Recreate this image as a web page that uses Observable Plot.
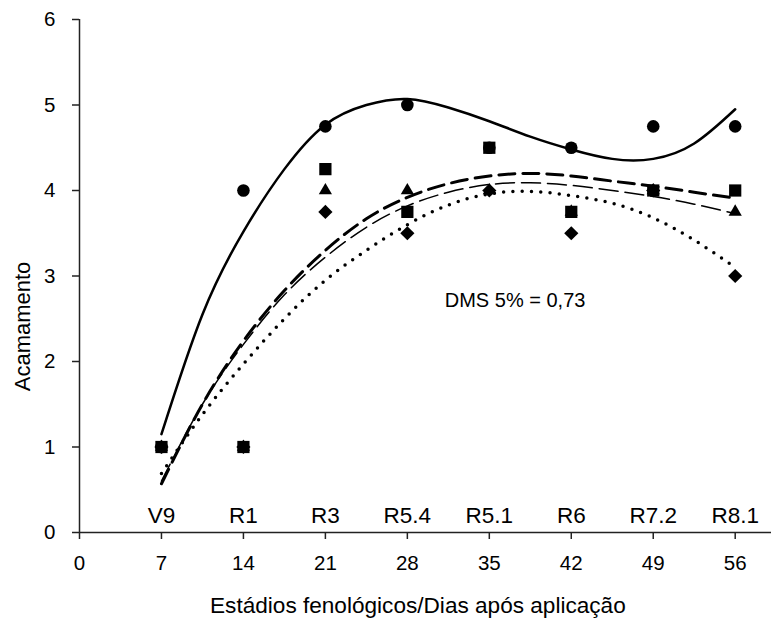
<!DOCTYPE html>
<html>
<head>
<meta charset="utf-8">
<script src="https://cdn.jsdelivr.net/npm/d3@7"></script>
<script src="https://cdn.jsdelivr.net/npm/@observablehq/plot@0.6"></script>
<style>
  html, body { margin: 0; padding: 0; background: #fff; }
  #chart { width: 771px; height: 619px; }
</style>
</head>
<body>
<div id="chart"></div>
<script>
// ---- data ----
const days = [7, 14, 21, 28, 35, 42, 49, 56];
const stages = ["V9", "R1", "R3", "R5.4", "R5.1", "R6", "R7.2", "R8.1"];
const xTicks = [0, 7, 14, 21, 28, 35, 42, 49, 56];
const yTicks = [0, 1, 2, 3, 4, 5, 6];

const circleVals   = [1, 4,    4.75, 5,    4.5, 4.5,  4.75, 4.75];
const triangleVals = [1, 1,    4,    4,    4,   3.75, 4,    3.75];
const squareVals   = [1, 1,    4.25, 3.75, 4.5, 3.75, 4,    4];
const diamondVals  = [1, 1,    3.75, 3.5,  4,   3.5,  4,    3];

// trend lines
const curveDays     = [7, 10.5, 14, 17.5, 21, 24.5, 28, 31.5, 35, 38.5, 42, 45.5, 49, 52.5, 56];
const circleCurve   = [1.15, 2.55, 3.52, 4.25, 4.77, 5.0, 5.07, 4.97, 4.81, 4.63, 4.48, 4.37, 4.37, 4.55, 4.95];
const squareCurve   = [0.57, 1.5, 2.24, 2.83, 3.3, 3.67, 3.92, 4.08, 4.17, 4.2, 4.17, 4.11, 4.05, 3.98, 3.91];
const triangleCurve = [0.6, 1.5, 2.2, 2.78, 3.22, 3.57, 3.82, 3.98, 4.07, 4.09, 4.06, 4.0, 3.93, 3.84, 3.73];
const diamondCurve  = [0.69, 1.38, 1.97, 2.5, 2.95, 3.3, 3.6, 3.83, 3.96, 3.99, 3.94, 3.85, 3.68, 3.42, 3.1];

const annotation = [{x: 37.2, y: 2.71, text: "DMS 5% = 0,73"}];
const xTitle = [{text: "Estádios fenológicos/Dias após aplicação", x: 28.9}];
const yTitle = [{text: "Acamamento", x: -4.87, y: 2.41}];

// ---- build tables ----
const pts = (vals) => days.map((d, i) => ({x: d, y: vals[i]}));
const crv = (vals) => curveDays.map((d, i) => ({x: d, y: vals[i]}));
const stageRows = days.map((d, i) => ({x: d, label: stages[i]}));

const font = "Liberation Sans, Arial, Helvetica, sans-serif";

const chart = Plot.plot({
  width: 771,
  height: 619,
  marginLeft: 79,
  marginRight: 0,
  marginTop: 19,
  marginBottom: 87,
  style: {fontFamily: font, fontSize: "20.5px", color: "#000", background: "#fff"},
  x: {domain: [0, 59.1], label: null},
  y: {domain: [0, 6], label: null},
  marks: [
    // axes
    Plot.ruleX([0], {stroke: "#222", strokeWidth: 1.5}),
    Plot.ruleY([0], {stroke: "#222", strokeWidth: 1.5}),
    Plot.axisX({ticks: xTicks, tickSize: 7, tickPadding: 16, tickFormat: d => String(d), label: null, stroke: "#222", strokeWidth: 1.5, fontSize: 20.5}),
    Plot.axisY({ticks: yTicks, tickSize: 7, tickPadding: 17, tickFormat: d => String(d), label: null, stroke: "#222", strokeWidth: 1.5, fontSize: 20.5}),
    // stage labels
    Plot.text(stageRows, {x: "x", y: () => 0, text: "label", lineAnchor: "bottom", dy: -10, fontSize: 22.5, fill: "#000"}),
    // trend lines
    Plot.line(crv(circleCurve), {x: "x", y: "y", curve: "natural", stroke: "#000", strokeWidth: 2.5}),
    Plot.line(crv(squareCurve), {x: "x", y: "y", curve: "natural", stroke: "#000", strokeWidth: 3, strokeDasharray: "16 8"}),
    Plot.line(crv(triangleCurve), {x: "x", y: "y", curve: "natural", stroke: "#000", strokeWidth: 1.5, strokeDasharray: "19 7"}),
    Plot.line(crv(diamondCurve), {x: "x", y: "y", curve: "natural", stroke: "#000", strokeWidth: 3.5, strokeLinecap: "round", strokeDasharray: "0 9.3"}),
    // points
    Plot.dot(pts(circleVals), {x: "x", y: "y", symbol: "circle", r: 6.3, fill: "#000", stroke: "none"}),
    Plot.dot(pts(triangleVals), {x: "x", y: "y", symbol: "triangle", r: 4.9, fill: "#000", stroke: "none"}),
    Plot.dot(pts(squareVals), {x: "x", y: "y", symbol: "square", r: 6.9, fill: "#000", stroke: "none"}),
    Plot.dot(pts(diamondVals), {x: "x", y: "y", symbol: "diamond2", r: 6.4, fill: "#000", stroke: "none"}),
    // annotation
    Plot.text(annotation, {x: "x", y: "y", text: "text", fontSize: 20, fill: "#000"}),
    // axis titles
    Plot.text(xTitle, {x: "x", y: () => 0, text: "text", lineAnchor: "bottom", dy: 80, fontSize: 22.6, fill: "#000"}),
    Plot.text(yTitle, {x: "x", y: "y", text: "text", rotate: -90, lineAnchor: "middle", fontSize: 22, fill: "#000"})
  ]
});
document.getElementById("chart").appendChild(chart);
</script>
</body>
</html>
